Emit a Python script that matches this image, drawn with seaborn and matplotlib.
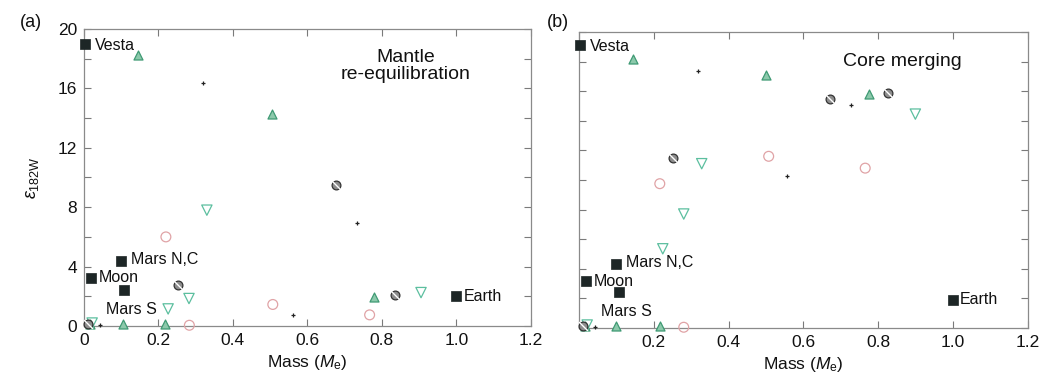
import numpy as np
import pandas as pd
import matplotlib
matplotlib.use("Agg")
import matplotlib.pyplot as plt
from matplotlib.path import Path
from matplotlib.ticker import MultipleLocator, FixedLocator
import seaborn as sns

sns.set_theme(style="white")
plt.rcParams["font.family"] = ["Liberation Sans", "DejaVu Sans"]
plt.rcParams["mathtext.fontset"] = "custom"
plt.rcParams["mathtext.rm"] = "Liberation Sans"
plt.rcParams["mathtext.it"] = "Liberation Sans:italic"

# ---- planetary bodies (mass in Earth masses, epsilon 182W) ----
bodies = ["Vesta", "Moon", "Mars N,C", "Mars S", "Earth"]
body_mass = [0.004, 0.018, 0.100, 0.107, 1.000]
body_eps_a = [19.0, 3.25, 4.4, 2.4, 2.0]
body_eps_b = [19.1, 3.15, 4.35, 2.4, 1.9]

# ---- simulated embryos: panel (a) mantle re-equilibration ----
up_a_mass = [0.145, 0.504, 0.778, 0.015, 0.105, 0.218]
up_a_eps = [18.25, 14.3, 1.95, 0.12, 0.12, 0.12]
down_a_mass = [0.330, 0.282, 0.226, 0.905, 0.022]
down_a_eps = [7.8, 1.85, 1.15, 2.25, 0.2]
circ_a_mass = [0.220, 0.507, 0.767, 0.283]
circ_a_eps = [6.0, 1.45, 0.75, 0.05]
gray_a_mass = [0.677, 0.252, 0.834, 0.012]
gray_a_eps = [9.5, 2.75, 2.1, 0.15]
plus_a_mass = [0.320, 0.733, 0.560, 0.043]
plus_a_eps = [16.35, 6.95, 0.75, 0.05]

# ---- simulated embryos: panel (b) core merging ----
up_b_mass = [0.144, 0.500, 0.776, 0.015, 0.100, 0.216]
up_b_eps = [18.2, 17.1, 15.8, 0.12, 0.12, 0.12]
down_b_mass = [0.328, 0.280, 0.224, 0.899, 0.022]
down_b_eps = [11.1, 7.7, 5.35, 14.45, 0.2]
circ_b_mass = [0.216, 0.507, 0.765, 0.280]
circ_b_eps = [9.75, 11.6, 10.8, 0.05]
gray_b_mass = [0.250, 0.672, 0.827, 0.012]
gray_b_eps = [11.5, 15.5, 15.9, 0.15]
plus_b_mass = [0.317, 0.557, 0.728, 0.043]
plus_b_eps = [17.35, 10.25, 15.05, 0.05]

slash = Path([(-0.55, 0.55), (0.55, -0.55)], [Path.MOVETO, Path.LINETO])

fig = plt.figure(figsize=(10.43, 3.82), dpi=100)
ax_a = fig.add_axes([0.0805, 0.1466, 0.4285, 0.7775])
ax_b = fig.add_axes([0.5551, 0.1414, 0.4305, 0.7749])


def draw(ax, up, down, circ, gray, plus, beps):
    common = dict(ax=ax, legend=False, clip_on=False, zorder=3)
    sns.scatterplot(x=up[0], y=up[1], marker="^", s=42, color="#8cc9ab",
                    edgecolor="#3f9a74", linewidth=0.9, **common)
    sns.scatterplot(x=down[0], y=down[1], marker="v", s=55, facecolor="none",
                    edgecolor="#5cbf9f", linewidth=0.9, **common)
    sns.scatterplot(x=circ[0], y=circ[1], marker="o", s=50, facecolor="none",
                    edgecolor="#e0a3a6", linewidth=0.9, **common)
    sns.scatterplot(x=gray[0], y=gray[1], marker="o", s=40, color="#8d8d8d",
                    edgecolor="#333333", linewidth=0.9, **common)
    sns.scatterplot(x=gray[0], y=gray[1], marker=slash, s=40, color="#222222",
                    linewidth=1.0, ax=ax, legend=False, clip_on=False, zorder=4)
    sns.scatterplot(x=plus[0], y=plus[1], marker="+", s=12, color="#222222",
                    linewidth=0.9, **common)
    sns.scatterplot(x=body_mass, y=beps, marker="s", s=62, color="#1d2626",
                    edgecolor="#1d2626", linewidth=0.5, ax=ax, legend=False,
                    clip_on=False, zorder=5)

    ax.set_xlim(0, 1.2)
    ax.set_ylim(0, 20)
    ax.xaxis.set_major_locator(MultipleLocator(0.2))
    ax.yaxis.set_major_locator(FixedLocator([0, 4, 8, 12, 16, 20]))
    ax.yaxis.set_minor_locator(FixedLocator([2, 6, 10, 14, 18]))
    ax.tick_params(which="both", direction="in", length=5, width=0.8,
                   color="#7a7a7a", top=True, right=True, bottom=True, left=True,
                   labelsize=12.5, pad=5, labelcolor="#111111")
    for sp in ax.spines.values():
        sp.set_color("#8a8a8a")
        sp.set_linewidth(0.9)
    ax.set_xlabel(r"Mass ($\mathit{M}_{\mathregular{e}}$)", fontsize=12.5,
                  color="#111111", labelpad=4)

    # body labels
    kw = dict(fontsize=11.5, color="#111111", va="center")
    ax.annotate("Vesta", (body_mass[0], beps[0]), xytext=(7, -1),
                textcoords="offset points", **kw)
    ax.annotate("Moon", (body_mass[1], beps[1]), xytext=(6, 0),
                textcoords="offset points", **kw)
    ax.annotate("Mars N,C", (body_mass[2], beps[2]), xytext=(7, 1),
                textcoords="offset points", **kw)
    ax.annotate("Mars S", (body_mass[3], beps[3]), xytext=(-13, -14),
                textcoords="offset points", **kw)
    ax.annotate("Earth", (body_mass[4], beps[4]), xytext=(5, 0),
                textcoords="offset points", **kw)


draw(ax_a, (up_a_mass, up_a_eps), (down_a_mass, down_a_eps),
     (circ_a_mass, circ_a_eps), (gray_a_mass, gray_a_eps),
     (plus_a_mass, plus_a_eps), body_eps_a)
draw(ax_b, (up_b_mass, up_b_eps), (down_b_mass, down_b_eps),
     (circ_b_mass, circ_b_eps), (gray_b_mass, gray_b_eps),
     (plus_b_mass, plus_b_eps), body_eps_b)

ax_a.set_xticks(np.arange(0, 1.21, 0.2))
ax_a.set_xticklabels(["0", "0.2", "0.4", "0.6", "0.8", "1.0", "1.2"])
ax_a.set_ylabel(r"$\varepsilon_{\mathregular{182W}}$", fontsize=13,
                color="#111111", labelpad=12)

ax_b.set_xticks(np.arange(0, 1.21, 0.2))
ax_b.set_xticklabels(["", "0.2", "0.4", "0.6", "0.8", "1.0", "1.2"])
ax_b.set_yticklabels([])

ax_a.text(0.72, 0.875, "Mantle\nre-equilibration", transform=ax_a.transAxes,
          ha="center", va="center", fontsize=14, color="#111111",
          linespacing=1.0)
ax_b.text(0.72, 0.9, "Core merging", transform=ax_b.transAxes,
          ha="center", va="center", fontsize=14, color="#111111")

fig.text(0.019, 0.94, "(a)", fontsize=13, color="#111111", va="center")
fig.text(0.524, 0.94, "(b)", fontsize=13, color="#111111", va="center")

fig.savefig("out.png", dpi=100, facecolor="white")
